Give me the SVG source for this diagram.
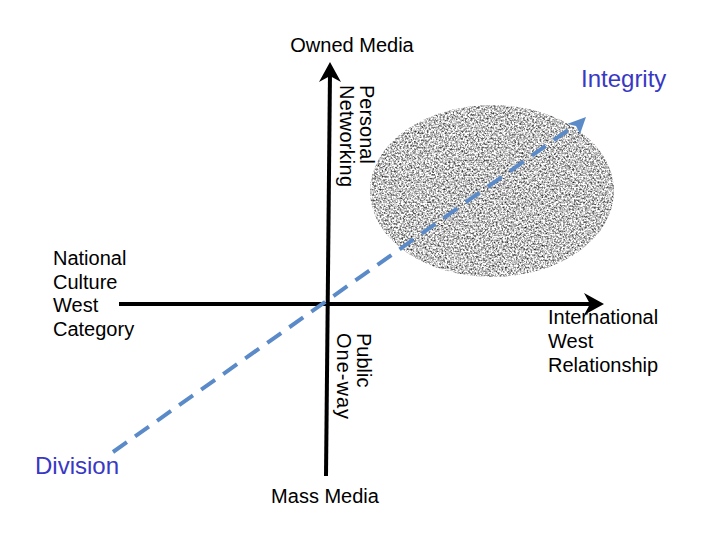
<svg xmlns="http://www.w3.org/2000/svg" width="720" height="540" viewBox="0 0 720 540">
<style>
.t{font-family:"Liberation Sans",Arial,sans-serif;font-size:20px;fill:#000}
.b{font-family:"Liberation Sans",Arial,sans-serif;font-size:24px;fill:#3838c4}
.ax{stroke:#000;stroke-width:4;fill:none}
.dash{stroke:#5b8ac8;stroke-width:4;fill:none;stroke-dasharray:17 10}
</style>
<defs>
<filter id="granite" x="0" y="0" width="1" height="1" color-interpolation-filters="sRGB">
<feTurbulence type="fractalNoise" baseFrequency="0.55" numOctaves="3" seed="7" result="n"/>
<feColorMatrix in="n" type="matrix" values="1.7 0 0 0 -0.08  1.7 0 0 0 -0.08  1.7 0 0 0 -0.08  0 0 0 0 1" result="g"/>
<feComposite in="g" in2="SourceGraphic" operator="in"/>
</filter>
</defs>
<rect width="720" height="540" fill="#fff"/>
<g id="blob">
<ellipse cx="492" cy="191" rx="122" ry="86" fill="#aaa" filter="url(#granite)"/>
</g>
<g id="connectors">
<line class="ax" x1="326" y1="476" x2="330" y2="72"/>
<polygon points="330,62 341,82 330,76 319,82" fill="#000"/>
<line class="ax" x1="119" y1="304" x2="594" y2="304"/>
<polygon points="604,304 584,315 590,304 584,293" fill="#000"/>
<line class="dash" x1="113" y1="452" x2="578" y2="123"/>
<polygon points="586,117 580,134 576,126 567,124" fill="#5b8ac8"/>
</g>
<g id="owned-media"><text class="t" x="352" y="52" text-anchor="middle">Owned Media</text></g>
<g id="mass-media"><text class="t" x="325" y="503" text-anchor="middle">Mass Media</text></g>
<g id="personal-networking">
<text class="t" transform="translate(360,85) rotate(90)">Personal</text>
<text class="t" transform="translate(340,85) rotate(90)" textLength="102">Networking</text>
</g>
<g id="public-oneway">
<text class="t" transform="translate(357,333) rotate(90)">Public</text>
<text class="t" transform="translate(337,333) rotate(90)" textLength="86">One-way</text>
</g>
<g id="national">
<text class="t" x="53" y="265">National</text>
<text class="t" x="53" y="289">Culture</text>
<text class="t" x="53" y="312">West</text>
<text class="t" x="53" y="336">Category</text>
</g>
<g id="international">
<text class="t" x="548" y="324">International</text>
<text class="t" x="548" y="348">West</text>
<text class="t" x="548" y="372">Relationship</text>
</g>
<g id="integrity"><text class="b" x="581" y="87">Integrity</text></g>
<g id="division"><text class="b" x="35" y="474">Division</text></g>
</svg>
